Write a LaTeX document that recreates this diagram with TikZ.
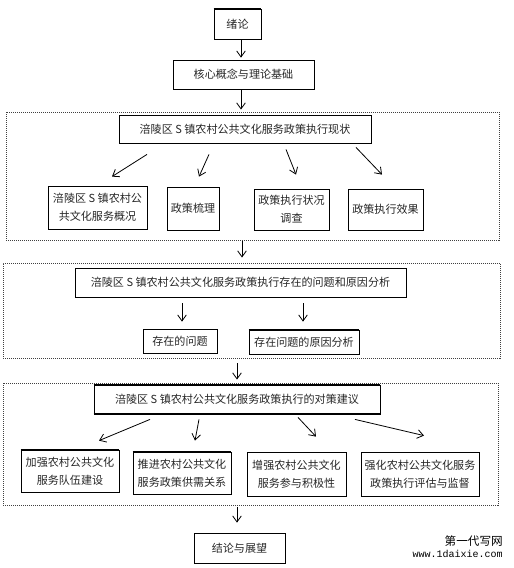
\documentclass[tikz,border=0pt]{standalone}
\usepackage{fontspec}
\newfontfamily\cjk{Noto Sans CJK SC}
\newfontfamily\wmmono{Liberation Mono}
\usetikzlibrary{arrows.meta,calc}
\begin{document}
\begin{tikzpicture}[x=0.75pt,y=-0.75pt,
  bx/.style={draw, line width=0.6pt, inner sep=0pt, text=black!85,
    font=\cjk\fontsize{8.3}{13.5}\selectfont, align=center},
  sz/.style 2 args={minimum width=#1*0.75pt, minimum height=#2*0.75pt},
  frame/.style={draw=black!75, dash pattern=on 0.75pt off 0.75pt, line width=0.7pt, inner sep=0pt},
  arr/.style={-{Straight Barb[length=4.5pt,width=6.5pt]}, line width=0.6pt},
  thickedge/.style={line width=1.6pt}]
\useasboundingbox (0,0) rectangle (514,568);

% frames
\node[frame, sz={493}{128}] (f1) at (252.5,176) {};
\node[frame, sz={497}{95}] (f2) at (251.5,310.5) {};
\node[frame, sz={495}{122}] (f3) at (250.5,444) {};

% boxes
\node[bx, sz={47}{30}] (intro) at (237.5,24) {绪论};
\node[bx, sz={141}{29}] (core) at (243.5,74.5) {核心概念与理论基础};
\node[bx, sz={252}{28}] (s1) at (245,129) {涪陵区 S 镇农村公共文化服务政策执行现状};
\node[bx, sz={99}{43}] (A) at (97.5,207.5) {涪陵区 S 镇农村公\\共文化服务概况};
\node[bx, sz={52}{43}] (B) at (193,208.5) {政策梳理};
\node[bx, sz={75}{41}] (C) at (291.5,209.5) {政策执行状况\\调查};
\node[bx, sz={75}{41}] (D) at (385.5,209.5) {政策执行效果};

\node[bx, sz={331}{29}] (s2) at (240.5,282.5) {涪陵区 S 镇农村公共文化服务政策执行存在的问题和原因分析};
\node[bx, sz={74}{24}] (P1) at (180,341) {存在的问题};
\node[bx, sz={110}{24}] (P2) at (304,342) {存在问题的原因分析};

\node[bx, sz={286}{29}] (s3) at (237,399.5) {涪陵区 S 镇农村公共文化服务政策执行的对策建议};
\node[bx, sz={98}{42}] (E) at (70,471) {加强农村公共文化\\服务队伍建设};
\node[bx, sz={98}{42}] (F) at (182,473) {推进农村公共文化\\服务政策供需关系};
\node[bx, sz={99}{44}] (G) at (296.5,474) {增强农村公共文化\\服务参与积极性};
\node[bx, sz={118}{44}] (H) at (420,474) {强化农村公共文化服务\\政策执行评估与监督};

\node[bx, sz={91}{30}] (end) at (239.5,548) {结论与展望};

% thicker edges
\draw[thickedge] (intro.north west) -- (intro.north east);
\draw[thickedge] (P2.north west) -- (P2.north east);
\draw[thickedge] (s3.north west) -- (s3.north east);
\draw[thickedge] (s3.south west) -- (s3.south east);
\draw[thickedge] (E.north west) -- (E.north east);
\draw[thickedge] (F.north west) -- (F.north east);

% arrows
\draw[arr] ($(intro.south)+(3.5,1)$) -- ($(core.north)+(-2.5,-2)$);
\draw[arr] ($(core.south)+(-2.5,1)$) -- ($(f1.north)+(-11.5,-2)$);
\draw[arr] ($(s1.south)+(-98,11)$) -- ($(A.north)+(14.5,-9)$);
\draw[arr] ($(s1.south)+(-36,11)$) -- ($(B.north)+(6,-10)$);
\draw[arr] ($(s1.south)+(41,6)$) -- ($(C.north)+(4.5,-14)$);
\draw[arr] ($(s1.south)+(111,4)$) -- ($(D.north)+(-3.5,-14)$);
\draw[arr] ($(f1.south)+(-10.5,1)$) -- ($(f2.north)+(-9.5,-5)$);
\draw[arr] ($(s2.south)+(-58.5,6)$) -- ($(P1.north)+(2,-7)$);
\draw[arr] ($(s2.south)+(62.5,6)$) -- ($(P2.north)+(-1,-8)$);
\draw[arr] ($(f2.south)+(-14.5,5)$) -- ($(f3.north)+(-13.5,-3)$);
\draw[arr] ($(s3.south)+(-87,5)$) -- ($(E.north)+(29,-9)$);
\draw[arr] ($(s3.south)+(-38,5)$) -- ($(F.north)+(13,-11)$);
\draw[arr] ($(s3.south)+(61,3)$) -- ($(G.north)+(19.5,-15)$);
\draw[arr] ($(s3.south)+(118,5)$) -- ($(H.north)+(4,-16)$);
\draw[arr] ($(f3.south)+(-13.5,2)$) -- ($(end.north)+(-2.5,-10)$);

% watermark
\node[anchor=east, inner sep=0pt, font=\cjk\fontsize{8.7}{9}\selectfont] (wm1) at (503,541.5) {第一代写网};
\node[anchor=east, inner sep=0pt, font=\wmmono\fontsize{7.5}{8}\selectfont] (wm2) at (503,553.5) {www.1daixie.com};
\end{tikzpicture}
\end{document}
